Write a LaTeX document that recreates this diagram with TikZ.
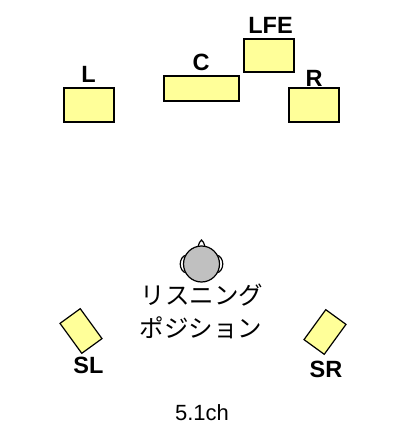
\documentclass[tikz,border=0pt]{standalone}
\usepackage{fontspec}
\setmainfont{Liberation Sans}
\newfontfamily\jpfont{Noto Sans CJK JP}
\definecolor{speakeryellow}{HTML}{FFFF99}
\definecolor{headgray}{HTML}{C0C0C0}
\begin{document}
\begin{tikzpicture}[
    x=1pt, y=-1pt,
    speaker/.style={rectangle, draw=black, fill=speakeryellow, line width=1.2pt, inner sep=0pt, outer sep=0pt, minimum width=#1},
    channel/.style={font=\fontsize{23.5}{23.5}\selectfont\bfseries, inner sep=0pt},
    headline/.style={draw=black, line width=1.2pt}
]
\useasboundingbox (0,0) rectangle (400,430);

\node[speaker=50pt, minimum height=34pt] (l)   at (89, 105)   {};
\node[speaker=75pt, minimum height=25pt] (c)   at (201.5, 88.5) {};
\node[speaker=50pt, minimum height=33pt] (lfe) at (269, 55.5) {};
\node[speaker=50pt, minimum height=34pt] (r)   at (314, 105)  {};
\node[speaker=25pt, minimum height=37pt, rotate=36]  (sl) at (81, 331) {};
\node[speaker=25pt, minimum height=37pt, rotate=-36] (sr) at (325, 332) {};

% Channel labels
\node[channel] (llabel)   at (88.5, 74)  {L};
\node[channel] (clabel)   at (201, 62)   {C};
\node[channel] (lfelabel) at (270.5, 25) {LFE};
\node[channel] (rlabel)   at (314, 78)   {R};
\node[channel] (sllabel)  at (88.5, 365) {SL};
\node[channel] (srlabel)  at (326, 369)  {SR};

% Listener
\draw[headline, fill=white] (198, 247) .. controls (199, 243) and (200, 241) .. (201.5, 240) .. controls (203, 241) and (204, 243) .. (205, 247) -- cycle;
\draw[headline, fill=white] (187, 255) .. controls (178, 256) and (178, 272) .. (187, 273) -- cycle;
\draw[headline, fill=white] (216, 255) .. controls (225, 256) and (225, 272) .. (216, 273) -- cycle;
\node[circle, draw=black, fill=headgray, line width=1.2pt, minimum size=36pt, inner sep=0pt] (head) at (201.5, 264) {};

\node[font=\jpfont\fontsize{24.5}{24.5}\selectfont, inner sep=0pt] (listen1) at (202, 295) {リスニング};
\node[font=\jpfont\fontsize{24.5}{24.5}\selectfont, inner sep=0pt] (listen2) at (201, 328) {ポジション};

\node[font=\fontsize{22}{22}\selectfont, inner sep=0pt] (format) at (202, 413) {5.1ch};

\end{tikzpicture}
\end{document}
